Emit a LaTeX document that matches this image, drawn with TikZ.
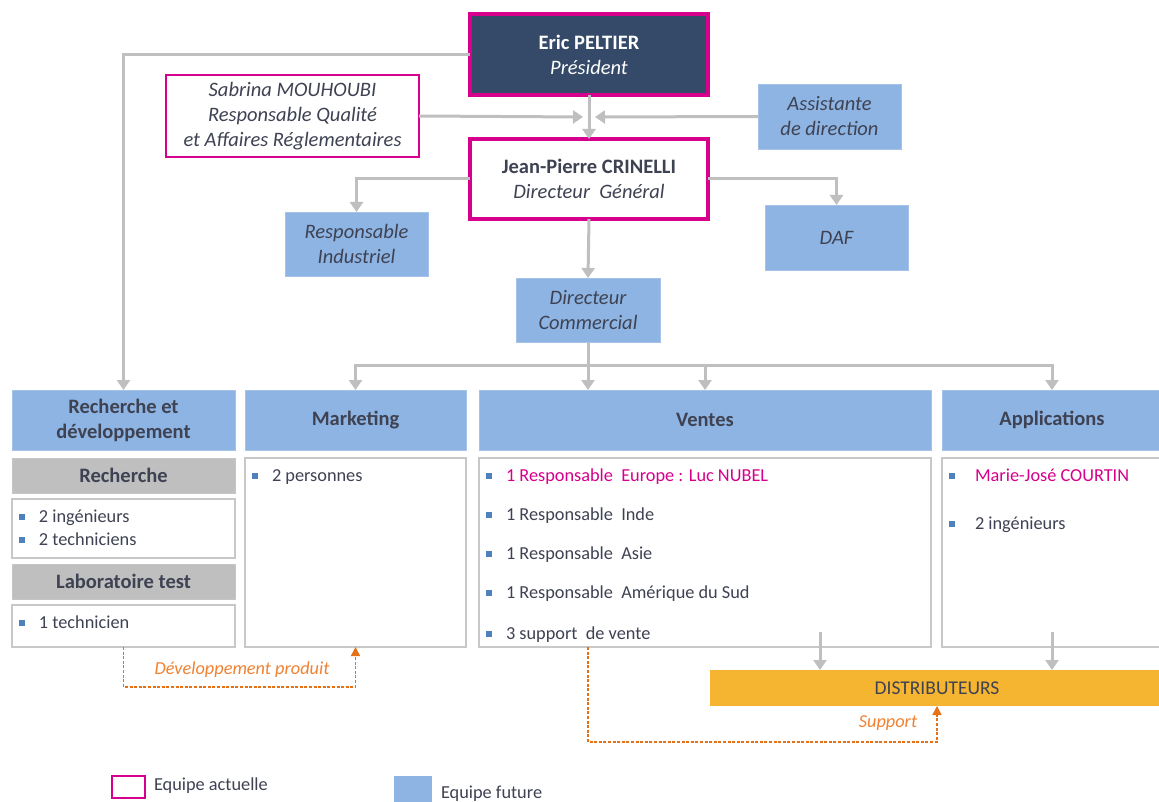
\documentclass[tikz,border=0pt]{standalone}
\usepackage{fontspec}
\setmainfont{Carlito}
\usetikzlibrary{arrows.meta}
\definecolor{mag}{RGB}{214,0,140}
\definecolor{navy}{RGB}{52,74,104}
\definecolor{lblue}{RGB}{142,180,227}
\definecolor{txt}{RGB}{62,66,82}
\definecolor{gr}{RGB}{191,191,191}
\definecolor{bord}{RGB}{200,200,200}
\definecolor{dist}{RGB}{246,181,48}
\definecolor{orng}{RGB}{230,112,20}
\definecolor{orlab}{RGB}{240,130,50}
\definecolor{bul}{RGB}{79,129,189}
\newcommand{\bsq}{\textcolor{bul}{\rule[0.12em]{6pt}{6pt}}\hspace{14pt}}
\newcommand{\bigf}{\fontsize{20.5}{25}\selectfont}
\newcommand{\smallf}{\fontsize{18.3}{22}\selectfont}
\begin{document}
\begin{tikzpicture}[x=1pt,y=-1pt,
  every node/.style={inner sep=0pt,outer sep=0pt,font=\smallf,text=txt,align=center},
  conn/.style={draw=gr,line width=3pt,-{Triangle[length=10pt,width=13pt]}},
  plain/.style={draw=gr,line width=3pt},
  magbox/.style={draw=mag,line width=4pt,fill=white,font=\bigf},
  magthin/.style={draw=mag,line width=2.2pt,fill=white,font=\bigf},
  fut/.style={fill=lblue,draw=lblue!80!white,line width=0.8pt,font=\bigf},
  head/.style={fut,font=\bigf\bfseries},
  greyhead/.style={fill=gr,draw=gr!90!white,line width=0.8pt,font=\bigf\bfseries},
  whitebox/.style={draw=bord,line width=1.6pt,fill=white},
  item/.style={anchor=base west,align=left},
  dashconn/.style={draw=orng,line width=1.6pt,dash pattern=on 3pt off 1.6pt,-{Triangle[length=9pt,width=9pt]}},
  dlabel/.style={text=orlab,font=\smallf\itshape}
]
\useasboundingbox (0,0) rectangle (1159,802);
\fill[white] (0,0) rectangle (1159,802);

% top boxes
\node[magbox,fill=navy,minimum width=238pt,minimum height=81pt,text=white] (eric) at (589,54.5)
  {{\bfseries Eric PELTIER}\\{\itshape Président}};
\node[magthin,minimum width=253pt,minimum height=82pt] (sab) at (292.5,116)
  {\itshape Sabrina MOUHOUBI\\\itshape Responsable Qualité\\\itshape et Affaires Réglementaires};
\node[fut,minimum width=143pt,minimum height=65pt] (ass) at (829.5,116.5)
  {\itshape Assistante\\\itshape de direction};
\node[magbox,minimum width=238pt,minimum height=80pt] (jp) at (589,179)
  {{\bfseries Jean-Pierre CRINELLI}\\{\itshape Directeur\ \ Général}};
\node[fut,minimum width=143pt,minimum height=64pt] (ri) at (356.5,244)
  {\itshape Responsable\\\itshape Industriel};
\node[fut,minimum width=143pt,minimum height=65pt] (daf) at (836.5,237.5) {\itshape DAF};
\node[fut,minimum width=144pt,minimum height=64pt] (dc) at (588,310)
  {\itshape Directeur\\\itshape Commercial};

% department headers
\node[head,minimum width=223pt,minimum height=60pt] (rd) at (123.5,420)
  {Recherche et\\développement};
\node[head,minimum width=221pt,minimum height=60pt] (mk) at (355.5,420) {Marketing};
\node[head,minimum width=452pt,minimum height=60pt] (ve) at (705,420) {Ventes};
\node[head,minimum width=228pt,minimum height=60pt] (ap) at (1056,420) {};
\node[font=\bigf\bfseries] (aptext) at (1052,420) {Applications};

% R&D content
\node[greyhead,minimum width=223pt,minimum height=35pt] (rech) at (123.5,475.5) {Recherche};
\node[whitebox,minimum width=223pt,minimum height=59pt] (rechbox) at (123.5,528.5) {};
\node[item] (i1) at (19,522) {\bsq 2 ingénieurs};
\node[item] (i2) at (19,545) {\bsq 2 techniciens};
\node[greyhead,minimum width=223pt,minimum height=35pt] (lab) at (123.5,581.5) {Laboratoire test};
\node[whitebox,minimum width=223pt,minimum height=42pt] (labbox) at (123.5,626) {};
\node[item] (i3) at (19,628) {\bsq 1 technicien};

% Marketing content
\node[whitebox,minimum width=221pt,minimum height=189pt] (mkbox) at (355.5,552.5) {};
\node[item] (m1) at (252,481) {\bsq 2 personnes};

% Ventes content
\node[whitebox,minimum width=452pt,minimum height=189pt] (vebox) at (705,552.5) {};
\node[item,text=mag] (v1) at (486,481) {\textcolor{bul}{\rule[0.12em]{6pt}{6pt}}\hspace{14pt}1 Responsable\ \ Europe\ : Luc NUBEL};
\node[item] (v2) at (486,520) {\bsq 1 Responsable\ \ Inde};
\node[item] (v3) at (486,559) {\bsq 1 Responsable\ \ Asie};
\node[item] (v4) at (486,598) {\bsq 1 Responsable\ \ Amérique\ du Sud};
\node[item] (v5) at (486,639) {\bsq 3 support\ \ de vente};

% Applications content
\node[whitebox,minimum width=228pt,minimum height=189pt] (apbox) at (1056,552.5) {};
\node[item,text=mag] (a1) at (949,481) {\textcolor{bul}{\rule[0.12em]{6pt}{6pt}}\hspace{20pt}Marie-José COURTIN};
\node[item] (a2) at (949,529) {\textcolor{bul}{\rule[0.12em]{6pt}{6pt}}\hspace{20pt}2 ingénieurs};

% Distributeurs
\node[fill=dist,minimum width=460pt,minimum height=36pt] (dist) at (940,688) {};
\node[font=\fontsize{19.5}{22}\selectfont] (disttext) at (937,688) {DISTRIBUTEURS};

% connectors
\coordinate (jl) at (583,117);
\coordinate (jr) at (595,117);
\draw[conn] (eric.south) -- (jp.north);
\draw[conn] (sab.east) -- (jl);
\draw[conn] (ass.west) -- (jr);
\draw[conn] (eric.west) -| (rd.north);
\draw[conn] (jp.west) -| (ri.north);
\draw[conn] (jp.east) -| (daf.north);
\draw[conn] (jp.south) -- (dc.north);
\coordinate (hub) at (588,365);
\coordinate (apx) at (1052,365);
\draw[plain] (dc.south) -- (hub);
\draw[conn] (hub) -| (mk.north);
\draw[conn] (hub) -- (hub |- ve.north);
\draw[conn] (hub) -| (ve.north);
\draw[conn] (hub) -- (apx) -- (apx |- ap.north);
\coordinate (vd) at (820,632);
\coordinate (ad) at (1052,632);
\draw[conn] (vd) -- (vd |- dist.north);
\draw[conn] (ad) -- (ad |- dist.north);

% dashed links
\coordinate (sup) at (937,742);
\draw[dashconn] (labbox.south) -- ++(0,40) -| (mk.south |- mkbox.south);
\draw[dashconn] (hub |- vebox.south) |- (sup) -- (sup |- dist.south);
\node[dlabel] (dev) at (242,670) {Développement produit};
\node[dlabel] (suplab) at (888,723) {Support};

% legend
\node[draw=mag,line width=2pt,minimum width=33pt,minimum height=22pt] (lg1) at (128.5,787) {};
\node[anchor=west] (lg1t) at (154,786) {Equipe actuelle};
\node[fill=lblue,minimum width=38pt,minimum height=28pt] (lg2) at (413,790) {};
\node[anchor=west] (lg2t) at (441,794) {Equipe future};
\end{tikzpicture}
\end{document}
